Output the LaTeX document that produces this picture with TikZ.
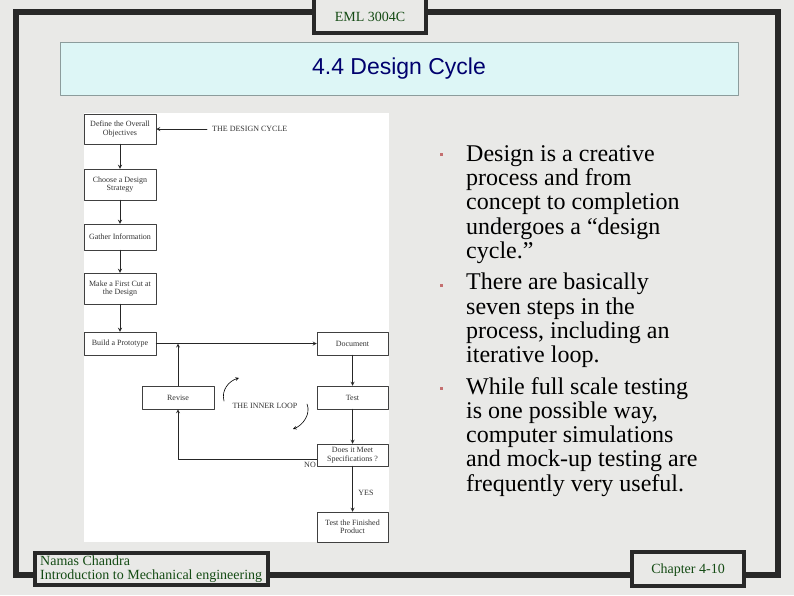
\documentclass[tikz,border=0pt]{standalone}
\usepackage{fontspec}
\setmainfont{Liberation Serif}
\newfontfamily\arialfont{Liberation Sans}
\definecolor{bg}{RGB}{233,233,231}
\definecolor{framegray}{RGB}{40,40,40}
\definecolor{titlefill}{RGB}{221,246,246}
\definecolor{titleline}{RGB}{140,156,156}
\definecolor{titletext}{RGB}{0,0,110}
\definecolor{footgreen}{RGB}{20,75,20}
\definecolor{bulletred}{RGB}{196,112,112}
\begin{document}
\begin{tikzpicture}[x=1pt,y=-1pt,line cap=round,line join=round,>=stealth,
  stepbox/.style={draw=black!75,line width=0.5pt,fill=white,minimum width=72pt,inner sep=1pt,align=center,font=\fontsize{8}{8.5}\selectfont,text=black!80},
  steplabel/.style={inner sep=0pt,font=\fontsize{8}{9}\selectfont,text=black!80},
  flow/.style={->,line width=0.8pt,black!85},
  footbox/.style={draw=framegray,line width=4pt,fill=bg,line join=miter},
  bullettext/.style={anchor=north west,inner sep=0pt,align=left,font=\fontsize{24}{24.3}\selectfont},
  bulletmark/.style={fill=bulletred,inner sep=0pt,minimum size=3pt}]
\useasboundingbox (0,0) rectangle (794,595);
\fill[bg] (0,0) rectangle (794,595);
\draw[framegray,line width=6pt,line join=miter] (16,12) rectangle (778,575);
\draw[footbox] (314,-6) rectangle (426,33);
\node[font=\fontsize{14}{14}\selectfont,text=footgreen] (course) at (370,17) {EML 3004C};
\node[draw=titleline,fill=titlefill,line width=0.8pt,minimum width=678pt,minimum height=53pt,font=\arialfont\fontsize{23}{23}\selectfont,text=titletext] (title) at (399,68.5) {4.4 Design Cycle};
\fill[white] (84,113) rectangle (389,542);
\node[stepbox,minimum height=30pt] (obj) at (120,129) {Define the Overall\\Objectives};
\node[stepbox,minimum height=31pt] (strat) at (120,184.5) {Choose a Design\\Strategy};
\node[stepbox,minimum height=26pt] (gather) at (120,237) {Gather Information};
\node[stepbox,minimum height=31pt] (cut) at (120,288.5) {Make a First Cut at\\the Design};
\node[stepbox,minimum height=23pt] (proto) at (120,343.5) {Build a Prototype};
\node[stepbox,minimum width=71pt,minimum height=23pt] (doc) at (352.5,343.5) {Document};
\node[stepbox,minimum width=71pt,minimum height=23pt] (test) at (352.5,397.5) {Test};
\node[stepbox,minimum width=71pt,minimum height=22pt] (spec) at (352.5,455) {Does it Meet\\Specifications ?};
\node[stepbox,minimum width=71pt,minimum height=30pt] (fin) at (352.5,527) {Test the Finished\\Product};
\node[stepbox,minimum height=23pt] (revise) at (178,397.5) {Revise};
\node[steplabel,anchor=west] (cyclelbl) at (212,129) {THE DESIGN CYCLE};
\node[steplabel] (looplbl) at (265,406) {THE INNER LOOP};
\node[steplabel] (nolbl) at (310,465) {NO};
\node[steplabel] (yeslbl) at (366,493) {YES};
\draw[flow,shorten <=5pt] (cyclelbl.west) -- (obj.east);
\draw[flow] (obj) -- (strat);
\draw[flow] (strat) -- (gather);
\draw[flow] (gather) -- (cut);
\draw[flow] (cut) -- (proto);
\draw[flow] (proto) -- (doc);
\draw[flow] (doc) -- (test);
\draw[flow] (test) -- (spec);
\draw[flow] (spec) -- (fin);
\draw[flow] ([yshift=-4pt]spec.west) -| (revise.south);
\draw[flow] (revise.north) -- (revise.north |- proto.east);
\coordinate (loopa) at (224,401);
\coordinate (loopb) at (239,378);
\coordinate (loopc) at (307,404);
\coordinate (loopd) at (293,429);
\draw[->,line width=0.6pt] (loopa) .. controls (221,390) and (229,381) .. (loopb);
\draw[->,line width=0.6pt] (loopc) .. controls (311,414) and (303,425) .. (loopd);
\node[bulletmark] (b1) at (441,154) {};
\node[bulletmark] (b2) at (441,285) {};
\node[bulletmark] (b3) at (441,388) {};
\node[bullettext] (p1) at (466,145.3) {Design is a creative\\process and from\\concept to completion\\undergoes a “design\\cycle.”};
\node[bullettext] (p2) at (466,272.9) {There are basically\\seven steps in the\\process, including an\\iterative loop.};
\node[bullettext] (p3) at (466,376.9) {While full scale testing\\is one possible way,\\computer simulations\\and mock-up testing are\\frequently very useful.};
\draw[footbox] (35,553) rectangle (268,585);
\node[anchor=north west,inner sep=0pt,align=left,font=\fontsize{14}{14}\selectfont,text=footgreen] (author) at (40,555.5) {Namas Chandra\\Introduction to Mechanical engineering};
\draw[footbox] (632,552) rectangle (744,586);
\node[font=\fontsize{14}{14}\selectfont,text=footgreen] (chap) at (688,570) {Chapter 4-10};
\end{tikzpicture}
\end{document}
